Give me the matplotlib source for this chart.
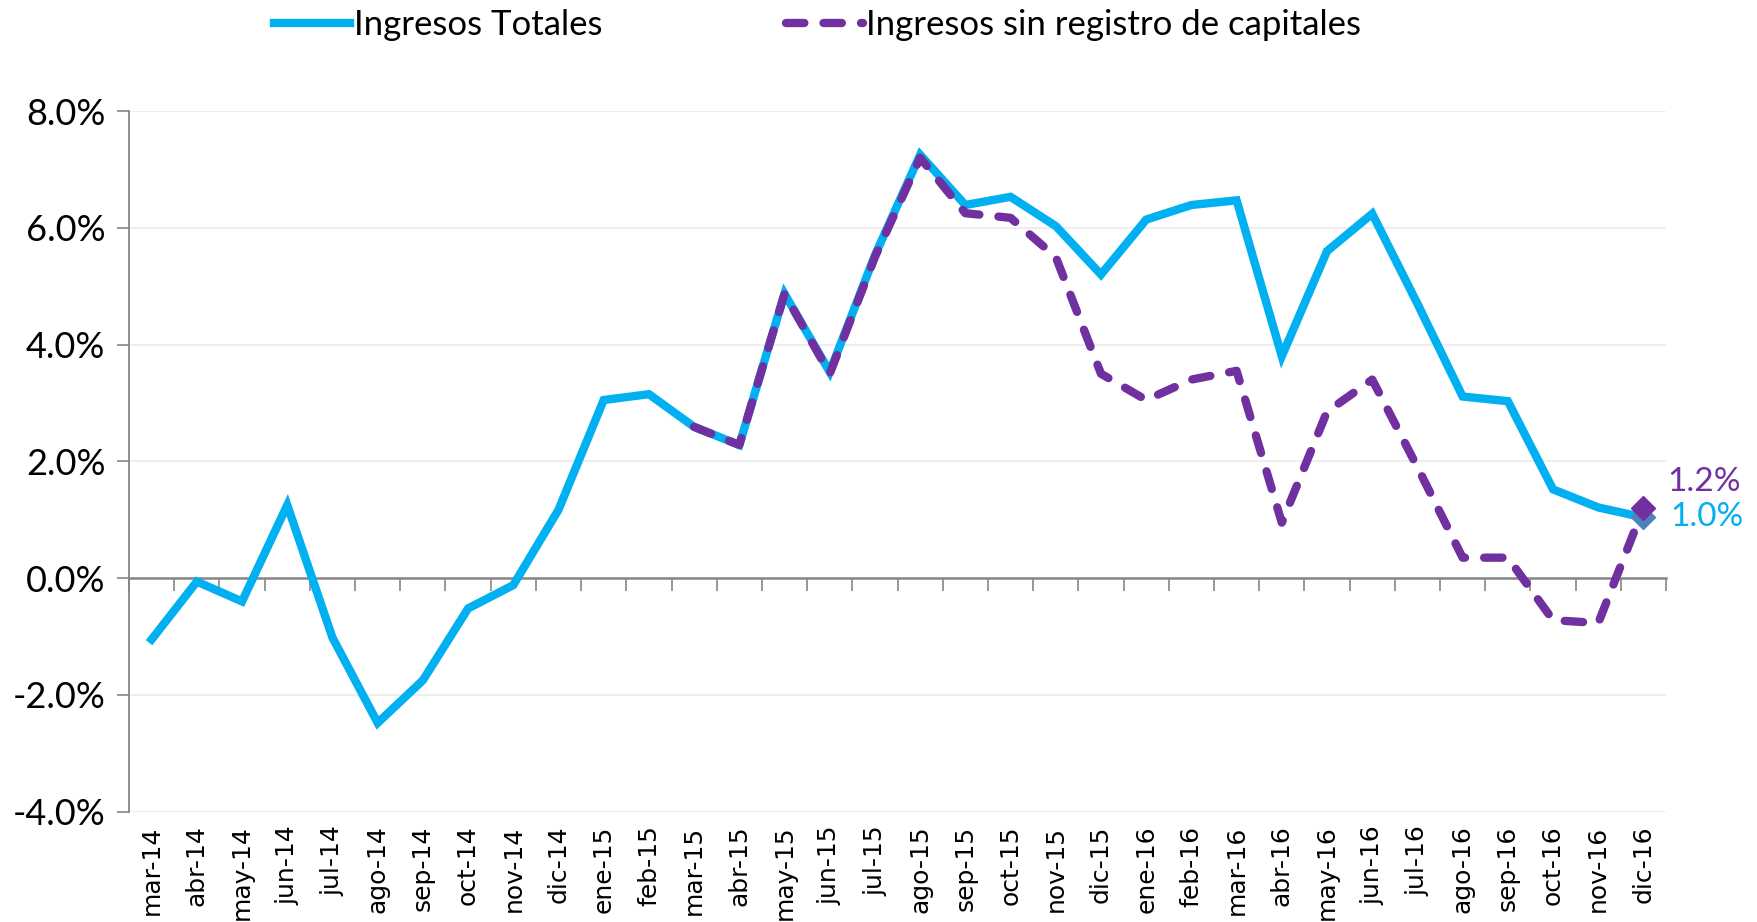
import numpy as np
import matplotlib
matplotlib.use("Agg")
import matplotlib.pyplot as plt
from matplotlib.ticker import FixedLocator, FuncFormatter

# data (year-on-year growth, %)
months = ["mar-14", "abr-14", "may-14", "jun-14", "jul-14", "ago-14", "sep-14", "oct-14",
          "nov-14", "dic-14", "ene-15", "feb-15", "mar-15", "abr-15", "may-15", "jun-15",
          "jul-15", "ago-15", "sep-15", "oct-15", "nov-15", "dic-15", "ene-16", "feb-16",
          "mar-16", "abr-16", "may-16", "jun-16", "jul-16", "ago-16", "sep-16", "oct-16",
          "nov-16", "dic-16"]

ingresos_totales = [-1.05, -0.06, -0.40, 1.25, -1.02, -2.48, -1.75, -0.52, -0.12, 1.17,
                    3.05, 3.15, 2.59, 2.28, 4.87, 3.53, 5.53, 7.25, 6.39, 6.53,
                    6.03, 5.20, 6.14, 6.39, 6.47, 3.80, 5.60, 6.24, 4.70, 3.11,
                    3.03, 1.52, 1.21, 1.04]

ingresos_sin_registro = [np.nan] * 12 + [2.59, 2.28, 4.87, 3.50, 5.50, 7.20, 6.25, 6.17,
                                         5.50, 3.50, 3.05, 3.40, 3.55, 0.95, 2.85, 3.40,
                                         1.90, 0.35, 0.35, -0.72, -0.77, 1.20]

BLUE = "#00B0F0"
PURPLE = "#7030A0"
GRAY = "#868686"
FONT = ["Lato", "DejaVu Sans"]

fig = plt.figure(figsize=(17.58, 9.22), dpi=100)
ax = fig.add_axes([0.0734, 0.1197, 0.8743, 0.7599])

x = np.arange(len(months))

ax.plot(x, ingresos_totales, color=BLUE, lw=6, solid_joinstyle="miter",
        label="Ingresos Totales", zorder=3)
ax.plot(x, ingresos_sin_registro, color=PURPLE, lw=6, dashes=(2.2, 2.3),
        dash_capstyle="round", label="Ingresos sin registro de capitales", zorder=4)

# end markers
ax.plot(x[-1], ingresos_totales[-1], marker="D", ms=12, color="#4F81BD", zorder=5)
ax.plot(x[-1], ingresos_sin_registro[-1], marker="D", ms=12, color=PURPLE, zorder=6)

ax.annotate(f"{ingresos_sin_registro[-1]:.1f}%", (x[-1], ingresos_sin_registro[-1]),
            xytext=(17, 8), textcoords="offset points", color=PURPLE,
            fontsize=24, family=FONT, va="bottom", ha="left")
ax.annotate(f"{ingresos_totales[-1]:.1f}%", (x[-1], ingresos_totales[-1]),
            xytext=(19, 0), textcoords="offset points", color=BLUE,
            fontsize=24, family=FONT, va="center", ha="left")

# axes
ax.set_xlim(-0.5, len(months) - 0.5)
ax.set_ylim(-4, 8)
ax.set_yticks(np.arange(-4, 8.1, 2))
ax.yaxis.set_major_formatter(FuncFormatter(lambda v, p: f"{v:.1f}%"))
for lab in ax.get_yticklabels():
    lab.set_family(FONT)
ax.tick_params(axis="y", labelsize=26, length=9, width=1.2, color=GRAY, pad=8)
ax.grid(axis="y", color="#EDEDED", lw=1.3, zorder=0)

for s in ["top", "right"]:
    ax.spines[s].set_visible(False)
ax.spines["left"].set_color(GRAY)
ax.spines["left"].set_linewidth(1.3)
ax.spines["bottom"].set_position(("data", 0))
ax.spines["bottom"].set_color(GRAY)
ax.spines["bottom"].set_linewidth(1.8)

# category boundary ticks on the zero line
ax.xaxis.set_major_locator(FixedLocator(np.arange(-0.5, len(months), 1.0)))
ax.tick_params(axis="x", length=9, width=1.2, color=GRAY, labelbottom=False)

# labels at the bottom of the plot
sec = ax.secondary_xaxis(0.0)
sec.set_xticks(x)
sec.set_xticklabels(months, rotation=90, fontsize=18)
sec.tick_params(length=0, pad=10)
sec.spines["bottom"].set_visible(False)

fig.legend(loc="upper center", bbox_to_anchor=(0.465, 1.024), ncol=2, frameon=False,
           prop={"family": FONT, "size": 25}, handlelength=2.2, handletextpad=0.1,
           columnspacing=5.3)

fig.savefig("out.png", dpi=100)
